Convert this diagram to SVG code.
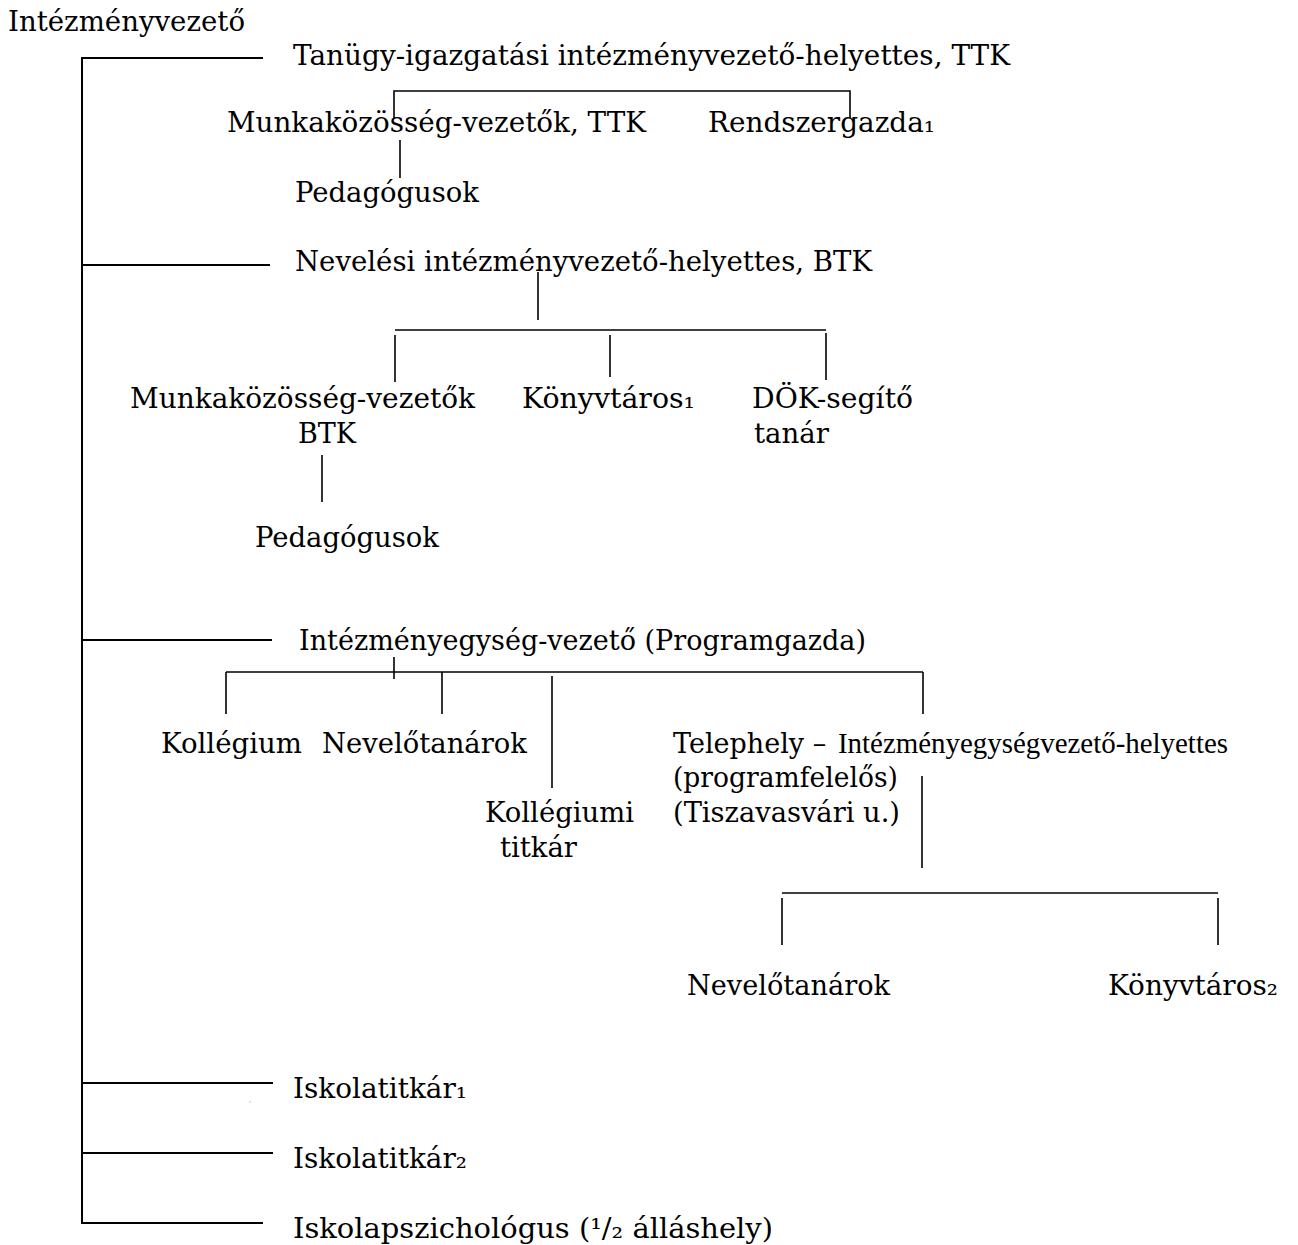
<svg xmlns="http://www.w3.org/2000/svg" width="1298" height="1245" viewBox="0 0 1298 1245">
<style>
  .t { font-family: "DejaVu Serif", "Liberation Serif", serif; font-size: 27px; fill: #000; }
  .c { font-family: "Liberation Serif", "DejaVu Serif", serif; font-size: 29px; fill: #000; }
  .trunk { stroke: #000; stroke-width: 2; fill: none; }
  .ln { stroke: #000; stroke-width: 1.6; fill: none; }
</style>
<rect x="0" y="0" width="1298" height="1245" fill="#fff"/>

<g id="connectors">
  <line class="trunk" x1="82" y1="57" x2="82" y2="1224"/>
  <line class="trunk" x1="81" y1="58" x2="263" y2="58"/>
  <line class="trunk" x1="81" y1="265" x2="270" y2="265"/>
  <line class="trunk" x1="81" y1="640" x2="272" y2="640"/>
  <line class="trunk" x1="81" y1="1083" x2="273" y2="1083"/>
  <line class="trunk" x1="81" y1="1153" x2="273" y2="1153"/>
  <line class="trunk" x1="81" y1="1223" x2="263" y2="1223"/>

  <path class="ln" d="M394,118 V91 H850 V118"/>
  <line class="ln" x1="400" y1="140" x2="400" y2="178"/>

  <line class="ln" x1="538" y1="272" x2="538" y2="320"/>
  <line class="ln" x1="395" y1="330" x2="826" y2="330"/>
  <line class="ln" x1="395" y1="335" x2="395" y2="382"/>
  <line class="ln" x1="610" y1="335" x2="610" y2="377"/>
  <line class="ln" x1="826" y1="333" x2="826" y2="380"/>
  <line class="ln" x1="322" y1="455" x2="322" y2="502"/>

  <line class="ln" x1="394" y1="657" x2="394" y2="679"/>
  <line class="ln" x1="226" y1="672" x2="923" y2="672"/>
  <line class="ln" x1="226" y1="672" x2="226" y2="714"/>
  <line class="ln" x1="442" y1="672" x2="442" y2="714"/>
  <line class="ln" x1="923" y1="672" x2="923" y2="714"/>
  <line class="ln" x1="552" y1="676" x2="552" y2="788"/>
  <line class="ln" x1="922" y1="776" x2="922" y2="868"/>
  <line class="ln" x1="782" y1="893" x2="1218" y2="893"/>
  <line class="ln" x1="782" y1="898" x2="782" y2="945"/>
  <line class="ln" x1="1218" y1="898" x2="1218" y2="945"/>
  <rect x="249.5" y="1101.5" width="1" height="1" fill="#888"/>
</g>

<g id="intezmenyvezeto"><text class="t" x="8" y="31" textLength="237" lengthAdjust="spacingAndGlyphs">Intézményvezető</text></g>
<g id="tanugy"><text class="t" x="293" y="65" textLength="717" lengthAdjust="spacingAndGlyphs">Tanügy-igazgatási intézményvezető-helyettes, TTK</text></g>
<g id="mkv-ttk"><text class="t" x="227" y="132" textLength="419" lengthAdjust="spacingAndGlyphs">Munkaközösség-vezetők, TTK</text></g>
<g id="rendszergazda"><text class="t" x="708" y="132" textLength="227" lengthAdjust="spacingAndGlyphs">Rendszergazda₁</text></g>
<g id="pedagogusok-ttk"><text class="t" x="295" y="202" textLength="184" lengthAdjust="spacingAndGlyphs">Pedagógusok</text></g>

<g id="nevelesi"><text class="t" x="295" y="271" textLength="577" lengthAdjust="spacingAndGlyphs">Nevelési intézményvezető-helyettes, BTK</text></g>
<g id="mkv-btk">
  <text class="t" x="130" y="408" textLength="345" lengthAdjust="spacingAndGlyphs">Munkaközösség-vezetők</text>
  <text class="t" x="298" y="443" textLength="58" lengthAdjust="spacingAndGlyphs">BTK</text>
</g>
<g id="konyvtaros1"><text class="t" x="522" y="408" textLength="173" lengthAdjust="spacingAndGlyphs">Könyvtáros₁</text></g>
<g id="dok">
  <text class="t" x="752" y="408" textLength="161" lengthAdjust="spacingAndGlyphs">DÖK-segítő</text>
  <text class="t" x="754" y="443" textLength="75" lengthAdjust="spacingAndGlyphs">tanár</text>
</g>
<g id="pedagogusok-btk"><text class="t" x="255" y="547" textLength="184" lengthAdjust="spacingAndGlyphs">Pedagógusok</text></g>

<g id="intezmenyegyseg"><text class="t" x="299" y="650" textLength="567" lengthAdjust="spacingAndGlyphs">Intézményegység-vezető (Programgazda)</text></g>
<g id="kollegium"><text class="t" x="161" y="753" textLength="141" lengthAdjust="spacingAndGlyphs">Kollégium</text></g>
<g id="nevelotanarok1"><text class="t" x="322" y="753" textLength="205" lengthAdjust="spacingAndGlyphs">Nevelőtanárok</text></g>
<g id="kollegiumi-titkar">
  <text class="t" x="485" y="822" textLength="149" lengthAdjust="spacingAndGlyphs">Kollégiumi</text>
  <text class="t" x="500" y="857" textLength="77" lengthAdjust="spacingAndGlyphs">titkár</text>
</g>
<g id="telephely">
  <text class="t" x="673" y="753">Telephely – <tspan class="c" x="838" textLength="390" lengthAdjust="spacingAndGlyphs">Intézményegységvezető-helyettes</tspan></text>
  <text class="t" x="673" y="787" textLength="225" lengthAdjust="spacingAndGlyphs">(programfelelős)</text>
  <text class="t" x="673" y="822" textLength="227" lengthAdjust="spacingAndGlyphs">(Tiszavasvári u.)</text>
</g>
<g id="nevelotanarok2"><text class="t" x="687" y="995" textLength="203" lengthAdjust="spacingAndGlyphs">Nevelőtanárok</text></g>
<g id="konyvtaros2"><text class="t" x="1108" y="995" textLength="170" lengthAdjust="spacingAndGlyphs">Könyvtáros₂</text></g>

<g id="iskolatitkar1"><text class="t" x="293" y="1098" textLength="174" lengthAdjust="spacingAndGlyphs">Iskolatitkár₁</text></g>
<g id="iskolatitkar2"><text class="t" x="293" y="1168" textLength="174" lengthAdjust="spacingAndGlyphs">Iskolatitkár₂</text></g>
<g id="iskolapszichologus"><text class="t" x="293" y="1238" textLength="480" lengthAdjust="spacingAndGlyphs">Iskolapszichológus (¹/₂ álláshely)</text></g>
</svg>
